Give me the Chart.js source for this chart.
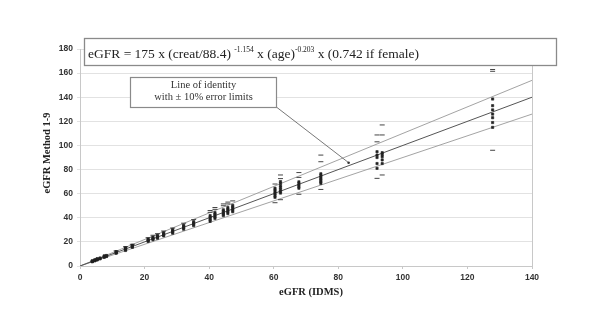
<!DOCTYPE html>
<html>
<head>
<meta charset="utf-8">
<script src="https://cdn.jsdelivr.net/npm/chart.js@4.4.1/dist/chart.umd.min.js"></script>
<style>
  body { margin: 0; background: #ffffff; }
  #chartjs-0 { display: block; }
</style>
</head>
<body>
<canvas id="chartjs-0" width="602" height="326"></canvas>
<script>
"use strict";

// IDMS reference eGFR of each sample (x position of each column)
const idmsX = [3.8, 4.6, 5.3, 6.2, 7.5, 8.2, 11.2, 14.1, 16.2, 21.1, 22.6, 24.0, 25.9, 28.7,
               32.1, 35.2, 40.3, 41.8, 44.4, 45.8, 47.3, 60.4, 62.1, 67.8, 74.6, 92.0, 93.6, 127.8];

// eGFR of methods 1-9 for each sample (dots)
const methodVals = [
  [3.5, 3.8, 4.0, 4.3],
  [4.3, 4.6, 4.9, 5.1],
  [5.0, 5.4, 5.7, 6.0],
  [5.9, 6.3, 6.6],
  [7.2, 7.6, 8.0, 8.4],
  [7.9, 8.3, 8.7],
  [10.6, 11.0, 11.4, 11.9],
  [12.9, 13.5, 14.1, 14.7, 15.2],
  [15.5, 16.0, 16.6, 17.2],
  [20.4, 21.0, 21.6, 22.3],
  [21.8, 22.5, 23.2, 23.9],
  [23.0, 23.8, 24.6, 25.4],
  [25.0, 25.8, 26.7, 27.6],
  [27.2, 28.2, 29.2, 30.2],
  [30.5, 31.6, 32.7, 33.8],
  [33.5, 34.6, 35.7, 36.8],
  [37.0, 38.2, 39.4, 40.6, 41.8],
  [39.5, 40.7, 41.9, 43.1, 44.3],
  [41.8, 43.0, 44.2, 45.4, 46.6],
  [43.5, 44.8, 46.0, 47.2, 48.5],
  [45.0, 46.3, 47.6, 48.9, 50.3],
  [57.0, 58.5, 60.0, 61.5, 63.0, 64.5],
  [60.5, 62.0, 63.5, 65.0, 66.5, 68.5, 70.0],
  [64.5, 65.8, 67.0, 68.4, 69.8],
  [68.5, 69.8, 71.0, 72.3, 73.6, 75.0, 76.5],
  [81.0, 85.0, 90.0, 92.0, 94.8],
  [85.0, 88.0, 90.7, 92.5, 94.0],
  [115.0, 119.0, 123.0, 126.0, 129.5, 133.0, 138.5]
];

// outlying single results for each sample (dashes)
const limitVals = [
  [], [], [], [], [], [],
  [12.6],
  [16.0],
  [18.0],
  [23.5],
  [25.5],
  [26.8],
  [29.0],
  [31.5],
  [35.5],
  [38.5],
  [44.5, 46.0],
  [47.0, 48.5],
  [50.0, 51.5],
  [51.5, 53.0],
  [54.0],
  [68.0, 52.5],
  [72.5, 75.5, 55.0],
  [73.5, 77.5, 59.5],
  [86.5, 92.0, 63.5],
  [103.0, 108.7, 72.7],
  [108.7, 117.0, 75.5],
  [161.5, 163.0, 96.0]
];

// line of identity and +/- 10% limits
const lineX = [0, 140];
const identityY = [0, 140];
const upperY = [0, 154];
const lowerY = [0, 126];

const xTicksMax = 140;
const yTicksMax = 180;

let dots = [];
let dashes = [];
for (let i = 0; i < idmsX.length; i++) {
    for (let j = 0; j < methodVals[i].length; j++) {
        dots.push({ x: idmsX[i], y: methodVals[i][j] });
    }
    for (let j = 0; j < limitVals[i].length; j++) {
        dashes.push({ x: idmsX[i], y: limitVals[i][j] });
    }
}

function linePoints(ys) {
    let pts = [];
    for (let i = 0; i < lineX.length; i++) {
        pts.push({ x: lineX[i], y: ys[i] });
    }
    return pts;
}

const extras = {
    id: "extras",
    afterDraw(chart) {
        const ctx = chart.ctx;
        const area = chart.chartArea;
        const xs = chart.scales.x;
        const ys = chart.scales.y;
        ctx.save();

        // right border of the plot
        ctx.strokeStyle = "#c8c8c8";
        ctx.lineWidth = 1;
        ctx.beginPath();
        ctx.moveTo(area.right + 0.5, area.top);
        ctx.lineTo(area.right + 0.5, area.bottom);
        ctx.stroke();

        // axis titles
        ctx.fillStyle = "#222";
        ctx.font = "bold 10.5px 'Liberation Serif'";
        ctx.textAlign = "center";
        ctx.textBaseline = "middle";
        ctx.fillText("eGFR (IDMS)", 311, 292);
        ctx.save();
        ctx.translate(47, 153);
        ctx.rotate(-Math.PI / 2);
        ctx.fillText("eGFR Method 1-9", 0, 0);
        ctx.restore();

        // equation box
        ctx.fillStyle = "#ffffff";
        ctx.fillRect(84, 38, 473, 28);
        ctx.strokeStyle = "#8a8a8a";
        ctx.lineWidth = 1.3;
        ctx.strokeRect(84.5, 38.5, 472, 27);
        const parts = [
            ["eGFR = 175 x (creat/88.4) ", false],
            ["-1.154", true],
            [" x (age)", false],
            ["-0.203", true],
            [" x (0.742 if female)", false]
        ];
        let px = 88;
        ctx.textAlign = "left";
        ctx.textBaseline = "alphabetic";
        ctx.fillStyle = "#222";
        for (let k = 0; k < parts.length; k++) {
            if (parts[k][1]) {
                ctx.font = "7.5px 'Liberation Serif'";
                ctx.fillText(parts[k][0], px, 52);
            } else {
                ctx.font = "13.5px 'Liberation Serif'";
                ctx.fillText(parts[k][0], px, 57.5);
            }
            px += ctx.measureText(parts[k][0]).width;
        }

        // identity label + leader line
        const ex = xs.getPixelForValue(83.2);
        const ey = ys.getPixelForValue(85.7);
        ctx.strokeStyle = "#555";
        ctx.lineWidth = 0.8;
        ctx.beginPath();
        ctx.moveTo(277, 107.5);
        ctx.lineTo(ex, ey);
        ctx.stroke();
        ctx.fillStyle = "#333";
        ctx.beginPath();
        ctx.arc(ex, ey, 1.3, 0, Math.PI * 2);
        ctx.fill();

        ctx.fillStyle = "#ffffff";
        ctx.fillRect(130, 77, 147, 30);
        ctx.strokeStyle = "#8a8a8a";
        ctx.lineWidth = 1.2;
        ctx.strokeRect(130.5, 77.5, 146, 30);
        ctx.fillStyle = "#333";
        ctx.font = "10.5px 'Liberation Serif'";
        ctx.textAlign = "center";
        ctx.textBaseline = "middle";
        ctx.fillText("Line of identity", 203.5, 85);
        ctx.fillText("with \u00b1 10% error limits", 203.5, 97);

        ctx.restore();
    }
};

var ctx = document.getElementById("chartjs-0");
var myChart = new Chart(ctx, {
    type: "scatter",
    data: {
        datasets: [
            {
                label: "Method 1-9",
                data: dots,
                pointStyle: "rect",
                pointRadius: 1.6,
                backgroundColor: "#222",
                borderColor: "#222",
                borderWidth: 0.6,
                order: 1
            },
            {
                label: "outliers",
                data: dashes,
                pointStyle: "line",
                pointRadius: 2.5,
                borderColor: "#444",
                borderWidth: 1,
                order: 1
            },
            {
                type: "line",
                label: "identity",
                data: linePoints(identityY),
                borderColor: "#555",
                borderWidth: 1,
                pointRadius: 0,
                fill: false,
                order: 2
            },
            {
                type: "line",
                label: "+10%",
                data: linePoints(upperY),
                borderColor: "#999",
                borderWidth: 0.9,
                pointRadius: 0,
                fill: false,
                order: 2
            },
            {
                type: "line",
                label: "-10%",
                data: linePoints(lowerY),
                borderColor: "#999",
                borderWidth: 0.9,
                pointRadius: 0,
                fill: false,
                order: 2
            }
        ]
    },
    options: {
        responsive: false,
        animation: false,
        layout: { padding: { left: 0, right: 70, top: 49, bottom: 0 } },
        plugins: {
            legend: { display: false },
            tooltip: { enabled: false }
        },
        scales: {
            x: {
                type: "linear",
                min: 0,
                max: xTicksMax,
                afterFit: function (scale) { scale.height = 60; },
                ticks: {
                    stepSize: 20,
                    padding: 4,
                    color: "#333",
                    font: { family: "'Liberation Sans'", size: 8.5, weight: "bold" }
                },
                grid: { drawOnChartArea: false, drawTicks: true, tickLength: 3, color: "#c8c8c8" },
                border: { display: true, color: "#c8c8c8" }
            },
            y: {
                type: "linear",
                min: 0,
                max: yTicksMax,
                afterFit: function (scale) { scale.width = 80; },
                ticks: {
                    stepSize: 20,
                    padding: 4,
                    color: "#333",
                    font: { family: "'Liberation Sans'", size: 8.5, weight: "bold" }
                },
                grid: { drawOnChartArea: true, drawTicks: true, tickLength: 3, color: "#e2e2e2" },
                border: { display: true, color: "#c8c8c8" }
            }
        }
    },
    plugins: [extras]
});
</script>
</body>
</html>
